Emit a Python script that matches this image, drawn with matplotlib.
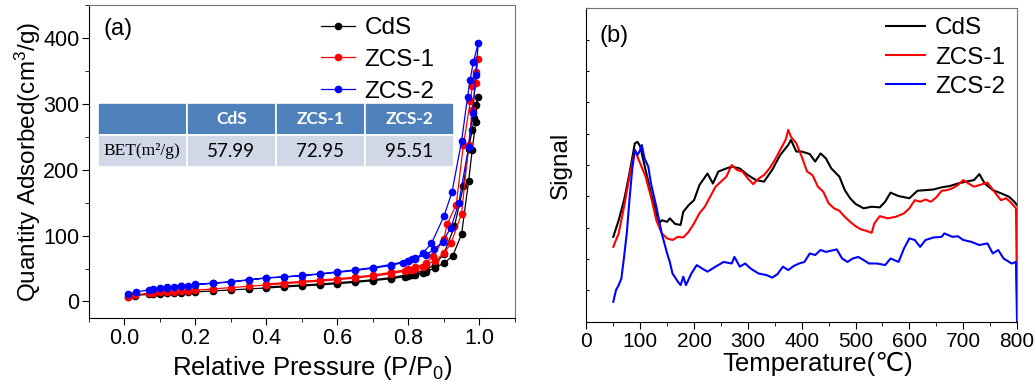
import numpy as np
import matplotlib.pyplot as plt
from matplotlib.ticker import MultipleLocator

plt.rcParams['font.family'] = ['Liberation Sans', 'DejaVu Sans']
plt.rcParams['mathtext.fontset'] = 'custom'
plt.rcParams['mathtext.rm'] = 'Liberation Sans'

# ---- (a) N2 isotherms: adsorption branch then desorption branch ----
cds_ads_p = [0.01, 0.03, 0.07, 0.08, 0.10, 0.12, 0.14, 0.16, 0.18, 0.20, 0.25, 0.30, 0.35,
             0.40, 0.45, 0.50, 0.55, 0.60, 0.65, 0.70, 0.75, 0.79, 0.80, 0.81, 0.82, 0.84,
             0.85, 0.875, 0.90, 0.925, 0.95, 0.97, 0.98, 0.99, 0.995]
cds_ads_q = [6, 9, 11, 11.5, 12, 12.5, 13, 13.5, 14, 14.5, 16, 17.5, 19,
             20.5, 22, 23.5, 25, 27, 29, 31.5, 34.5, 37.5, 38.5, 39.5, 40.5, 43,
             45, 51, 58, 69, 102, 183, 230, 273, 311]
cds_des_p = [0.99, 0.985, 0.98, 0.97, 0.955, 0.93, 0.90, 0.875, 0.85, 0.82, 0.80, 0.75,
             0.70, 0.65, 0.60, 0.55, 0.50, 0.45, 0.40]
cds_des_q = [298, 278, 260, 232, 175, 114, 72, 56, 48, 43, 41, 36,
             33, 30.5, 28.5, 26.5, 25, 23.5, 22]

zcs1_ads_p = [0.01, 0.03, 0.07, 0.08, 0.10, 0.12, 0.14, 0.16, 0.18, 0.20, 0.25, 0.30, 0.35,
              0.40, 0.45, 0.50, 0.55, 0.60, 0.65, 0.70, 0.75, 0.79, 0.80, 0.81, 0.82, 0.84,
              0.85, 0.875, 0.90, 0.92, 0.95, 0.97, 0.98, 0.99, 0.995]
zcs1_ads_q = [7, 10, 12.5, 13, 14, 14.5, 15, 16, 16.5, 17, 19, 21, 23,
              25, 27, 29, 31, 33, 35.5, 38.5, 42, 46, 47, 48.5, 50, 53,
              56, 62, 73, 88, 133, 238, 290, 332, 368]
zcs1_des_p = [0.99, 0.98, 0.975, 0.955, 0.935, 0.91, 0.90, 0.87, 0.85, 0.82, 0.80, 0.75,
              0.70, 0.65, 0.60, 0.55, 0.50, 0.45, 0.40]
zcs1_des_q = [349, 327, 305, 237, 147, 118, 95, 69, 58, 52, 49, 44,
              40, 37, 34.5, 32.5, 30.5, 28.5, 26.5]

zcs2_ads_p = [0.01, 0.033, 0.07, 0.08, 0.10, 0.12, 0.14, 0.16, 0.18, 0.20, 0.25, 0.30, 0.35,
              0.40, 0.45, 0.50, 0.55, 0.60, 0.65, 0.70, 0.75, 0.785, 0.80, 0.81, 0.82, 0.84,
              0.865, 0.90, 0.923, 0.95, 0.967, 0.974, 0.983, 0.997]
zcs2_ads_q = [10.6, 14.6, 17.6, 18.6, 20.5, 21, 22.5, 23.5, 24, 25.5, 27.5, 29.5, 32.5,
              35.5, 37, 39, 41.5, 44, 47, 50.5, 54.5, 59, 61, 64, 65, 73,
              88, 129, 166, 243, 311, 336, 363, 392]
zcs2_des_p = [0.99, 0.981, 0.97, 0.942, 0.92, 0.897, 0.873, 0.85, 0.82, 0.80, 0.75, 0.70,
              0.65, 0.60, 0.55, 0.50, 0.45, 0.40, 0.35, 0.30, 0.25, 0.20, 0.16, 0.12]
zcs2_des_q = [344, 286, 235, 149, 112, 91, 79, 71, 65.5, 62, 56, 51.5,
              48, 45, 42, 39.5, 37.5, 36, 33, 30, 28, 26, 24, 21.5]

bet_samples = ['CdS', 'ZCS-1', 'ZCS-2']
bet_values = ['57.99', '72.95', '95.51']

# ---- (b) TPD signals ----
cds_t = [50, 60, 70, 80, 90, 95, 100, 110, 120, 130, 135, 140, 150, 155, 165, 175, 180, 190,
         200, 210, 225, 235, 245, 260, 270, 285, 300, 315, 330, 345, 360, 375, 380, 390, 400,
         415, 425, 435, 445, 455, 470, 480, 490, 500, 515, 530, 545, 555, 565, 580, 600, 615,
         630, 645, 660, 675, 690, 705, 720, 730, 740, 755, 770, 785, 795, 800]
cds_s = [2.71, 3.24, 3.88, 4.73, 5.69, 5.74, 5.59, 4.84, 4.10, 3.46, 3.14, 3.24, 3.19, 3.30,
         3.12, 3.09, 3.51, 3.72, 3.88, 4.36, 4.73, 4.41, 4.79, 4.89, 4.95, 4.89, 4.68, 4.52,
         4.47, 4.84, 5.32, 5.64, 5.80, 5.43, 5.43, 5.35, 5.11, 5.37, 5.21, 4.89, 4.63, 4.20,
         3.94, 3.76, 3.62, 3.67, 3.65, 3.83, 4.12, 4.01, 3.94, 4.18, 4.20, 4.22, 4.29, 4.33,
         4.41, 4.47, 4.52, 4.71, 4.41, 4.20, 4.10, 3.99, 3.83, 3.72]

zcs1_t = [50, 60, 70, 80, 90, 100, 110, 120, 130, 140, 150, 160, 170, 180, 190, 200, 210,
          220, 230, 240, 250, 260, 270, 280, 290, 300, 310, 320, 330, 340, 350, 360, 370,
          375, 380, 390, 400, 410, 420, 430, 440, 450, 460, 470, 480, 490, 500, 510, 520,
          530, 535, 545, 560, 575, 590, 600, 610, 620, 630, 640, 650, 660, 670, 680, 690,
          700, 710, 720, 730, 745, 760, 770, 780, 790, 798, 800]
zcs1_s = [2.39, 2.82, 3.67, 4.63, 5.48, 5.05, 4.63, 3.99, 3.24, 2.82, 2.66, 2.61, 2.71,
          2.69, 2.87, 3.14, 3.46, 3.67, 3.99, 4.31, 4.47, 4.63, 5.00, 4.84, 4.79, 4.57,
          4.39, 4.57, 4.68, 4.89, 5.16, 5.48, 5.80, 6.12, 5.90, 5.69, 5.27, 4.79, 4.68,
          4.31, 4.15, 3.78, 3.62, 3.54, 3.35, 3.19, 3.05, 2.95, 2.90, 2.84, 3.14, 3.37,
          3.30, 3.35, 3.46, 3.62, 3.88, 3.83, 3.90, 3.83, 3.97, 4.18, 4.20, 4.26, 4.36,
          4.52, 4.41, 4.31, 4.36, 4.44, 4.10, 3.88, 3.94, 3.78, 3.62, 0.80]

zcs2_t = [50, 55, 60, 65, 70, 75, 80, 85, 90, 95, 100, 103, 108, 115, 120, 130, 140, 150,
          155, 160, 170, 175, 180, 185, 195, 205, 215, 225, 240, 255, 270, 275, 285, 295,
          305, 320, 335, 345, 355, 365, 375, 385, 395, 405, 415, 425, 435, 445, 455, 465,
          475, 485, 495, 505, 515, 525, 540, 555, 565, 580, 590, 600, 610, 620, 630, 645,
          660, 665, 680, 690, 700, 715, 730, 745, 755, 765, 775, 790, 798, 800]
zcs2_s = [0.64, 1.01, 1.17, 1.38, 2.07, 2.82, 3.88, 4.84, 5.48, 5.32, 5.48, 5.64, 5.21,
          4.95, 4.41, 3.67, 2.82, 2.18, 1.91, 1.54, 1.28, 1.17, 1.44, 1.17, 1.54, 1.81,
          1.70, 1.60, 1.76, 1.91, 1.86, 2.07, 1.76, 1.86, 1.70, 1.54, 1.49, 1.41, 1.52,
          1.76, 1.65, 1.78, 1.86, 1.91, 2.18, 2.13, 2.29, 2.23, 2.27, 2.31, 2.02, 1.91,
          2.02, 2.07, 1.97, 1.86, 1.86, 1.81, 2.02, 1.91, 2.34, 2.66, 2.61, 2.39, 2.61,
          2.69, 2.71, 2.82, 2.71, 2.73, 2.61, 2.55, 2.45, 2.50, 2.18, 2.29, 2.02, 1.86,
          1.91, 0.0]

fig = plt.figure(figsize=(10.36, 3.92), dpi=100)
ax1 = fig.add_axes([0.0859, 0.189, 0.411, 0.798])
ax2 = fig.add_axes([0.566, 0.179, 0.4157, 0.800])

# ----- panel a -----
iso = [('CdS', 'black', cds_ads_p, cds_ads_q, cds_des_p, cds_des_q),
       ('ZCS-1', 'red', zcs1_ads_p, zcs1_ads_q, zcs1_des_p, zcs1_des_q),
       ('ZCS-2', 'blue', zcs2_ads_p, zcs2_ads_q, zcs2_des_p, zcs2_des_q)]
for name, c, ap, aq, dp, dq in iso:
    ax1.plot(ap + dp, aq + dq, '-o', color=c, lw=0.9, ms=4.5, label=name)

ax1.set_xlim(-0.1, 1.1)
ax1.set_ylim(-25, 450)
ax1.xaxis.set_minor_locator(MultipleLocator(0.1))
ax1.yaxis.set_major_locator(MultipleLocator(100))
ax1.yaxis.set_minor_locator(MultipleLocator(50))
ax1.set_xticks([0.0, 0.2, 0.4, 0.6, 0.8, 1.0])
ax1.set_xticklabels(['0.0', '0.2', '0.4', '0.6', '0.8', '1.0'])
ax1.tick_params(which='both', direction='out', labelsize=15.5, top=False, right=False)
ax1.tick_params(which='major', length=5, pad=2)
ax1.tick_params(which='minor', length=3)
ax1.set_xlabel(r'Relative Pressure (P/P$\mathregular{_0}$)', fontsize=18.5, labelpad=0)
ax1.xaxis.set_label_coords(0.525, -0.115)
ax1.set_ylabel(r'Quantity Adsorbed(cm$\mathregular{^3}$/g)', fontsize=17.5, labelpad=0)
ax1.text(0.035, 0.96, '(a)', transform=ax1.transAxes, fontsize=17, va='top', ha='left')
ax1.legend(loc='upper right', fontsize=17.5, frameon=False, handlelength=1.4,
           handletextpad=0.4, labelspacing=0.4, borderaxespad=0.1,
           bbox_to_anchor=(0.84, 1.0))

cells = [['', *bet_samples], ['BET(m²/g)', *bet_values]]
tab = ax1.table(cellText=cells, bbox=[0.0204, 0.482, 0.8366, 0.205],
                cellColours=[['#4f81bd'] * 4, ['#d0d8e8'] * 4], cellLoc='center')
tab.auto_set_font_size(False)
for (r, c), cell in tab.get_celld().items():
    cell.set_edgecolor('white')
    cell.set_linewidth(1.2)
    t = cell.get_text()
    if r == 0:
        t.set_color('white')
        t.set_fontweight('bold')
        t.set_fontfamily('Lato')
        t.set_fontsize(12.5)
    elif c == 0:
        t.set_fontfamily('Liberation Serif')
        t.set_fontsize(12.5)
    else:
        t.set_fontfamily('Lato')
        t.set_fontsize(13.5)

# ----- panel b -----
ax2.plot(cds_t, cds_s, color='black', lw=1.5, label='CdS')
ax2.plot(zcs1_t, zcs1_s, color='red', lw=1.5, label='ZCS-1')
ax2.plot(zcs2_t, zcs2_s, color='blue', lw=1.5, label='ZCS-2')
ax2.set_xlim(0, 800)
ax2.set_ylim(0, 10)
ax2.xaxis.set_major_locator(MultipleLocator(100))
ax2.xaxis.set_minor_locator(MultipleLocator(50))
ax2.yaxis.set_major_locator(MultipleLocator(1))
ax2.set_yticklabels([])
ax2.tick_params(axis='x', which='both', direction='out', labelsize=15, top=False)
ax2.tick_params(axis='x', which='major', length=5, pad=2)
ax2.tick_params(axis='x', which='minor', length=3)
ax2.tick_params(axis='y', direction='in', length=2.5, right=False)
ax2.set_xlabel('Temperature(℃)', fontsize=18.5, labelpad=0)
ax2.xaxis.set_label_coords(0.538, -0.095)
ax2.set_ylabel('Signal', fontsize=17.5, labelpad=7)
ax2.text(0.03, 0.945, '(b)', transform=ax2.transAxes, fontsize=17, va='top', ha='left')
ax2.legend(loc='upper right', fontsize=17.5, frameon=False, handlelength=1.6,
           handletextpad=0.4, labelspacing=0.3, borderaxespad=0.1,
           bbox_to_anchor=(1.0, 1.01))

for ax in (ax1, ax2):
    ax.spines['top'].set_color('0.45')
    ax.spines['right'].set_color('0.45')

fig.savefig('out.png', dpi=100)
